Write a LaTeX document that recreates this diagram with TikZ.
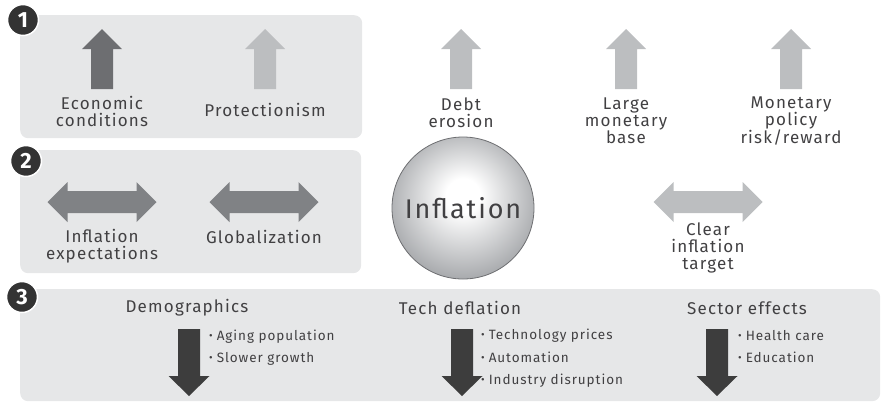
\documentclass[tikz,border=0pt]{standalone}
\usepackage{fontspec}
\setmainfont{Fira Sans}[LetterSpace=7]
\definecolor{panelbg}{HTML}{E6E7E8}
\definecolor{darkarr}{HTML}{6D6E71}
\definecolor{lightarr}{HTML}{BCBEC0}
\definecolor{midarr}{HTML}{808285}
\definecolor{downarr}{HTML}{3D3D3D}
\definecolor{txt}{HTML}{414042}
\definecolor{badgec}{HTML}{333333}
\definecolor{circedge}{HTML}{6D6E71}
\definecolor{circouter}{HTML}{A9ABAE}
\pgfdeclareradialshading{ballshade}{\pgfpoint{0bp}{5bp}}{color(0bp)=(white); color(6bp)=(white); color(27bp)=(circouter); color(50bp)=(circouter)}
\newcommand\bul{\raisebox{0.15ex}{\fontsize{11}{11}\selectfont\textbullet}\hspace{4pt}}
\tikzset{
  panel/.style={fill=panelbg, rounded corners=8pt, anchor=north west, inner sep=0pt},
  badge/.style={circle, fill=badgec, draw=white, line width=1.5pt, minimum size=31pt, inner sep=0pt, text=white, font=\fontsize{22}{22}\selectfont\bfseries},
  lbl/.style={align=center, inner sep=0pt, text=txt},
  head/.style={inner sep=0pt, text=txt, font=\fontsize{17}{18}\selectfont},
  bullets/.style={anchor=west, align=left, inner sep=0pt, text=txt, font=\fontsize{13.5}{22.5}\selectfont},
  pics/uparr/.style={code={\fill[#1] (0,0) -- (20,20) -- (11,20) -- (11,60) -- (-11,60) -- (-11,20) -- (-20,20) -- cycle;}},
  pics/dblarr/.style={code={\fill[#1] (-54.5,0) -- (-34.5,-20) -- (-34.5,-11) -- (34.5,-11) -- (34.5,-20) -- (54.5,0) -- (34.5,20) -- (34.5,11) -- (-34.5,11) -- (-34.5,20) -- cycle;}},
  pics/downarr/.style={code={\fill[#1] (-11,0) -- (11,0) -- (11,47) -- (20.5,47) -- (0,67) -- (-20.5,47) -- (-11,47) -- cycle;}}
}
\begin{document}
\begin{tikzpicture}[x=1pt,y=-1pt,font=\fontsize{17}{17}\selectfont]
\useasboundingbox (0,0) rectangle (883,405);
% panels
\node[panel, minimum width=342pt, minimum height=123pt] (p1) at (20,15) {};
\node[panel, minimum width=341pt, minimum height=123pt] (p2) at (20,150) {};
\node[panel, minimum width=860pt, minimum height=112pt] (p3) at (20,289) {};
% badges
\node[badge] (b1) at (23,20) {1};
\node[badge] (b2) at (26,161) {2};
\node[badge] (b3) at (22,297) {3};
% up arrows
\pic (a1) at (102,29) {uparr=darkarr};
\pic (a2) at (265,29) {uparr=lightarr};
\pic (a3) at (461,29) {uparr=lightarr};
\pic (a4) at (626,29) {uparr=lightarr};
\pic (a5) at (791,29) {uparr=lightarr};
\node[lbl] (econ) at (102,111) {Economic\\conditions};
\node[lbl] (prot) at (265,110) {Protectionism};
\node[lbl] (debt) at (461,113) {Debt\\erosion};
\node[lbl] (base) at (626,121) {Large\\monetary\\base};
\node[lbl] (pol) at (791,121) {Monetary\\policy\\risk/reward};
% double arrows
\pic (d1) at (102,202) {dblarr=midarr};
\pic (d2) at (264,202) {dblarr=midarr};
\pic (d3) at (708,202) {dblarr=lightarr};
\node[lbl] (expect) at (102,246) {Inflation\\expectations};
\node[lbl] (glob) at (264,237) {Globalization};
\node[lbl] (target) at (708,248) {Clear\\inflation\\target};
% inflation ball
\node[circle, minimum size=142pt, inner sep=0pt, draw=circedge, line width=0.8pt, shading=ballshade, text=txt, font=\fontsize{27}{27}\selectfont] (infl) at (463,208) {Inflation};
% section 3
\node[head] (demo) at (187,308) {Demographics};
\node[head] (tech) at (460,308) {Tech deflation};
\node[head] (sect) at (747,308) {Sector effects};
\pic (s1) at (189,329) {downarr=downarr};
\pic (s2) at (462,329) {downarr=downarr};
\pic (s3) at (717,329) {downarr=downarr};
\node[bullets] (demol) at (209,347.5) {\bul Aging population\\\bul Slower growth};
\node[bullets] (techl) at (481,358.5) {\bul Technology prices\\\bul Automation\\\bul Industry disruption};
\node[bullets] (sectl) at (738,346.5) {\bul Health care\\\bul Education};
\end{tikzpicture}
\end{document}
